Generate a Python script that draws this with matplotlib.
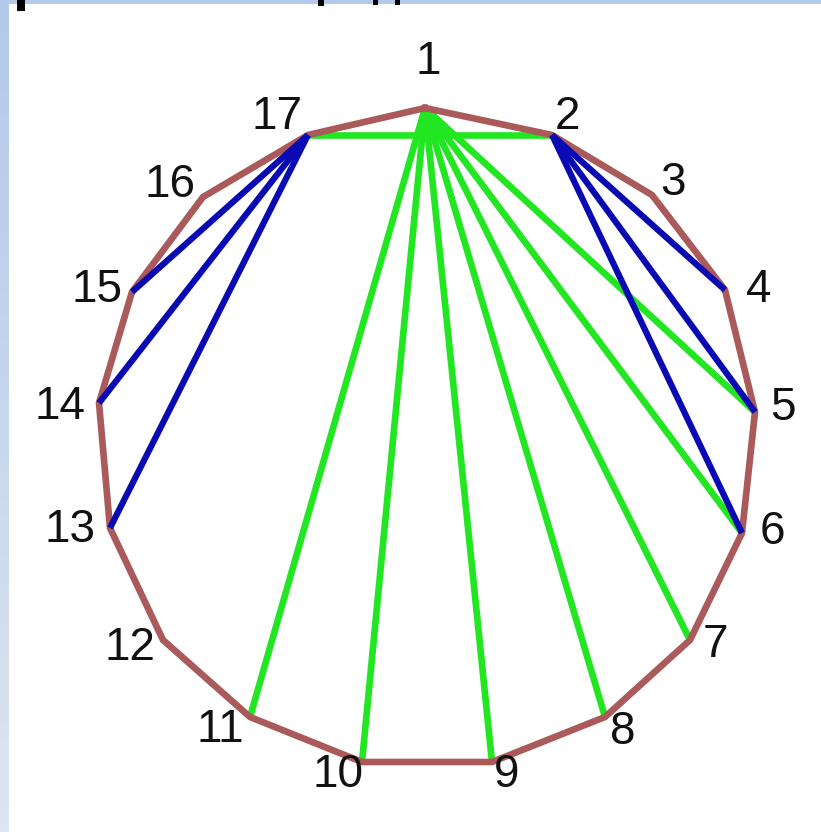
import matplotlib
matplotlib.use("Agg")
import matplotlib.pyplot as plt
import numpy as np
from matplotlib.patches import Rectangle

BROWN = "#AA5A5A"
GREEN = "#22E622"
BLUE  = "#0A0AB4"

# vertices of the 17-gon (pixel coords, y down)
labels = [str(i) for i in range(1, 18)]
vx = [425, 552, 652, 725, 755, 742, 690, 605, 492, 362, 250, 163, 110, 99, 132, 203, 308]
vy = [108, 135, 195, 290, 412, 533, 640, 717, 762, 762, 717, 640, 528, 403, 292, 197, 135]

# label centres
lx = [428, 567, 673, 759, 783, 772, 715, 623, 507, 338, 220, 130, 70, 60, 97, 170, 277]
ly = [62, 117, 183, 290, 408, 532, 645, 732, 775, 775, 730, 648, 530, 407, 290, 185, 117]

# diagonals (1-based vertex numbers)
green_diag = [(17, 2), (1, 5), (1, 6), (1, 7), (1, 8), (1, 9), (1, 10), (1, 11)]
blue_diag = [(17, 15), (17, 14), (17, 13), (2, 4), (2, 5), (2, 6)]

fig = plt.figure(figsize=(8.21, 8.32), dpi=100)
ax = fig.add_axes([0, 0, 1, 1])
ax.set_xlim(0, 821)
ax.set_ylim(832, 0)
ax.axis("off")

# slide background bits: blue gradient strip on the left, thin strip on top
grad = np.linspace(0, 1, 100).reshape(-1, 1)
ax.imshow(grad, extent=(0, 9, 832, 0), aspect="auto",
          cmap=matplotlib.colors.LinearSegmentedColormap.from_list("g", ["#B4C8EA", "#DCE5F2"]),
          zorder=0)
ax.add_patch(Rectangle((0, 0), 821, 4, facecolor="#B4C8EA", edgecolor="none", zorder=0))
for x0, w, h in [(17, 8, 11), (318, 6, 6), (373, 5, 5), (395, 5, 5)]:
    ax.add_patch(Rectangle((x0, 0), w, h, facecolor="black", edgecolor="none", zorder=1))

for a, b in green_diag:
    ax.plot([vx[a-1], vx[b-1]], [vy[a-1], vy[b-1]], color=GREEN, lw=4.8,
            solid_capstyle="butt", zorder=2)

ax.plot(vx + [vx[0]], vy + [vy[0]], color=BROWN, lw=4.8, solid_joinstyle="miter", zorder=3)

for a, b in blue_diag:
    ax.plot([vx[a-1], vx[b-1]], [vy[a-1], vy[b-1]], color=BLUE, lw=4.5,
            solid_capstyle="butt", zorder=4)

for t, x, y in zip(labels, lx, ly):
    ax.text(x, y, t, ha="center", va="center", fontsize=33,
            family="Liberation Sans", color="#111111", zorder=5)

fig.savefig("out.png", dpi=100, facecolor="white")
